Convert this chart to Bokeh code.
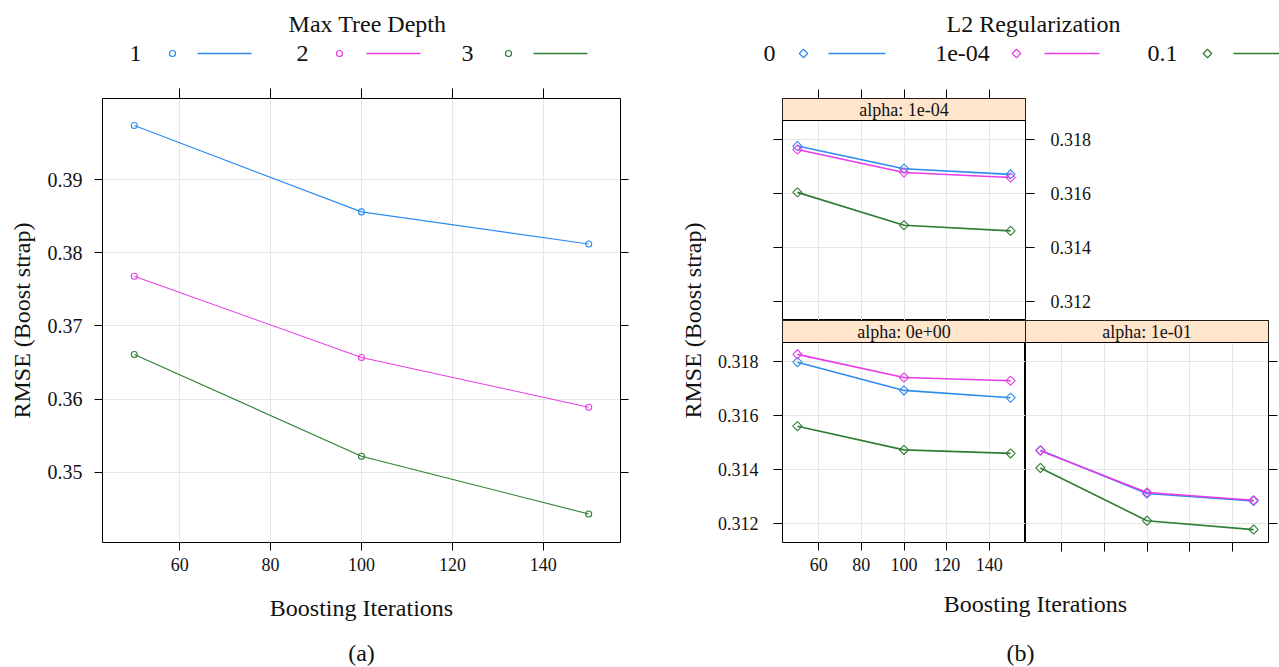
import math
from bokeh.plotting import figure
from bokeh.layouts import row, column
from bokeh.models import Range1d, LinearAxis, FixedTicker, Grid
from bokeh.core.properties import value
from bokeh.embed import file_html
from bokeh.resources import INLINE

FONT = "Liberation Serif"
TXT = "#111111"

# ---------------- data ----------------
iterations = [50, 100, 150]
x_ticks = [60, 80, 100, 120, 140]
x_tick_labels = ["60", "80", "100", "120", "140"]

# (a) Max Tree Depth
depth_levels = ["1", "2", "3"]
rmse_depth_1 = [0.3974, 0.3856, 0.3812]
rmse_depth_2 = [0.3768, 0.3657, 0.3589]
rmse_depth_3 = [0.3661, 0.3522, 0.3443]
a_y_ticks = [0.35, 0.36, 0.37, 0.38, 0.39]
a_y_tick_labels = ["0.35", "0.36", "0.37", "0.38", "0.39"]

# (b) L2 Regularization, panels by alpha
l2_levels = ["0", "1e-04", "0.1"]
strip_alpha_1e4 = "alpha: 1e-04"
strip_alpha_0 = "alpha: 0e+00"
strip_alpha_1e1 = "alpha: 1e-01"

alpha_1e4_l2_0 = [0.31776, 0.31692, 0.31671]
alpha_1e4_l2_1e4 = [0.31763, 0.31678, 0.31659]
alpha_1e4_l2_01 = [0.31604, 0.31482, 0.31461]

alpha_0_l2_0 = [0.31798, 0.31693, 0.31666]
alpha_0_l2_1e4 = [0.31827, 0.31741, 0.31729]
alpha_0_l2_01 = [0.31560, 0.31472, 0.31459]

alpha_1e1_l2_0 = [0.31471, 0.31310, 0.31282]
alpha_1e1_l2_1e4 = [0.31469, 0.31314, 0.31285]
alpha_1e1_l2_01 = [0.31405, 0.31209, 0.31176]

b_y_ticks = [0.312, 0.314, 0.316, 0.318]
b_y_tick_labels = ["0.312", "0.314", "0.316", "0.318"]

colors = ["#2d8cec", "#e83ce8", "#2e7d32"]

# ---------------- helpers ----------------
def base_fig(w, h, xr, yr, left=0, right=0, top=0, bottom=0, outline=True):
    p = figure(width=w, height=h, x_range=Range1d(*xr), y_range=Range1d(*yr),
               x_axis_type=None, y_axis_type=None, toolbar_location=None,
               output_backend="svg",
               min_border_left=left, min_border_right=right,
               min_border_top=top, min_border_bottom=bottom)
    p.background_fill_color = "white"
    p.border_fill_color = "white"
    p.outline_line_color = "black" if outline else None
    p.outline_line_width = 1
    return p


def add_axis(p, side, ticks, labels, show=True, size=18, out=8, standoff=8,
             axis_label=None, label_size=24, label_standoff=10):
    ax = LinearAxis(ticker=FixedTicker(ticks=ticks),
                    major_label_overrides=dict(zip(ticks, labels)))
    ax.axis_line_color = None
    ax.major_tick_in = 0
    ax.major_tick_out = out
    ax.major_tick_line_color = "black"
    ax.minor_tick_line_color = None
    ax.minor_tick_in = 0
    ax.minor_tick_out = 0
    ax.major_label_text_font = FONT
    if show:
        ax.major_label_text_color = TXT
        ax.major_label_text_font_size = f"{size}px"
        ax.major_label_standoff = standoff
    else:
        # tick marks only (lattice style), labels not drawn
        ax.major_label_text_color = None
        ax.major_label_text_font_size = "1px"
        ax.major_label_standoff = 0
    if axis_label:
        ax.axis_label = axis_label
        ax.axis_label_text_font = FONT
        ax.axis_label_text_font_style = "normal"
        ax.axis_label_text_font_size = f"{label_size}px"
        ax.axis_label_text_color = TXT
        ax.axis_label_standoff = label_standoff
    p.add_layout(ax, side)
    return ax


def add_grids(p, xt, yt):
    for dim, t in ((0, xt), (1, yt)):
        g = Grid(dimension=dim, ticker=FixedTicker(ticks=t))
        g.grid_line_color = "#e6e6e6"
        g.grid_line_width = 1
        p.add_layout(g)


def txt(p, x, y, s, size, angle=0.0):
    p.text(x=[x], y=[y], text=[s], angle=angle,
           text_font=value(FONT), text_font_size=value(f"{size}px"),
           text_align="center", text_baseline="middle", text_color=TXT)


def series(p, ys, color, marker, msize, lw, angle=0.0):
    p.line(iterations, ys, line_color=color, line_width=lw)
    p.scatter(iterations, ys, marker=marker, size=msize, angle=angle, fill_color=None,
              line_color=color, line_width=1.1)


X_RANGE = (43, 157)
DIAMOND_ANGLE = math.pi / 4

# ---------------- (a) ----------------
legL = base_fig(648, 88, (0, 648), (0, 88), outline=False)
txt(legL, 367, 65, "Max Tree Depth", 24)
for lab, lx, mx, s0, s1, c in zip(depth_levels, [135, 302, 467], [172, 339, 508],
                                  [197, 366, 533], [251, 420, 587], colors):
    txt(legL, lx, 35, lab, 24)
    legL.scatter([mx], [35], marker="circle", size=6, fill_color=None, line_color=c, line_width=1.2)
    legL.segment([s0], [35], [s1], [35], line_color=c, line_width=1.3)

A = base_fig(648, 494, X_RANGE, (0.3404, 0.4011), left=102, right=28, top=10, bottom=40)
add_grids(A, x_ticks, a_y_ticks)
add_axis(A, "left", a_y_ticks, a_y_tick_labels, show=True, size=20, out=8, standoff=12,
         axis_label="RMSE (Boost strap)", label_size=24, label_standoff=10)
add_axis(A, "right", a_y_ticks, a_y_tick_labels, show=False, out=8)
add_axis(A, "above", x_ticks, x_tick_labels, show=False, out=10)
add_axis(A, "below", x_ticks, x_tick_labels, show=True, size=18, out=8, standoff=7)
for ys, c in zip([rmse_depth_1, rmse_depth_2, rmse_depth_3], colors):
    series(A, ys, c, "circle", 6, 1.1)

capL = base_fig(648, 85, (0, 648), (0, 85), outline=False)
txt(capL, 361, 60, "Boosting Iterations", 24)
txt(capL, 361, 15, "(a)", 24)

left_col = column(legL, row(A), capL)

# ---------------- (b) ----------------
y0, y1 = 0.31128, 0.31871
ytop = y1 + (y1 - y0) * 22 / 200


def strip(p, label):
    p.quad(left=[X_RANGE[0]], right=[X_RANGE[1]], bottom=[y1], top=[ytop],
           fill_color="#ffe5cc", line_color="black", line_width=1)
    txt(p, (X_RANGE[0] + X_RANGE[1]) / 2, (y1 + ytop) / 2, label, 18)


legR = base_fig(631, 88, (0, 631), (0, 88), outline=False)
txt(legR, 385, 65, "L2 Regularization", 24)
for lab, lx, mx, s0, s1, c in zip(l2_levels, [121, 314, 514], [155, 368, 559],
                                  [180, 396, 585], [237, 451, 642], colors):
    txt(legR, lx, 35, lab, 24)
    legR.scatter([mx], [35], marker="square", angle=DIAMOND_ANGLE, size=6,
                 fill_color=None, line_color=c, line_width=1.2)
    legR.segment([s0], [35], [s1], [35], line_color=c, line_width=1.3)

TL = base_fig(389, 232, X_RANGE, (y0, ytop), left=76, right=70, top=10, bottom=0)
add_grids(TL, x_ticks, b_y_ticks)
add_axis(TL, "left", b_y_ticks, b_y_tick_labels, show=False, out=9)
add_axis(TL, "right", b_y_ticks, b_y_tick_labels, show=True, size=18, out=9, standoff=16)
add_axis(TL, "above", x_ticks, x_tick_labels, show=False, out=9)
for ys, c in zip([alpha_1e4_l2_0, alpha_1e4_l2_1e4, alpha_1e4_l2_01], colors):
    series(TL, ys, c, "square", 6.5, 1.6, DIAMOND_ANGLE)
strip(TL, strip_alpha_1e4)

BL = base_fig(319, 262, X_RANGE, (y0, ytop), left=76, right=0, top=0, bottom=40)
add_grids(BL, x_ticks, b_y_ticks)
add_axis(BL, "left", b_y_ticks, b_y_tick_labels, show=True, size=18, out=9, standoff=15)
add_axis(BL, "below", x_ticks, x_tick_labels, show=True, size=18, out=8, standoff=7)
for ys, c in zip([alpha_0_l2_0, alpha_0_l2_1e4, alpha_0_l2_01], colors):
    series(BL, ys, c, "square", 6.5, 1.6, DIAMOND_ANGLE)
strip(BL, strip_alpha_0)

BR = base_fig(254, 262, X_RANGE, (y0, ytop), left=0, right=11, top=0, bottom=40)
add_grids(BR, x_ticks, b_y_ticks)
add_axis(BR, "right", b_y_ticks, b_y_tick_labels, show=False, out=9)
add_axis(BR, "below", x_ticks, x_tick_labels, show=False, out=9)
for ys, c in zip([alpha_1e1_l2_0, alpha_1e1_l2_1e4, alpha_1e1_l2_01], colors):
    series(BR, ys, c, "square", 6.5, 1.6, DIAMOND_ANGLE)
strip(BR, strip_alpha_1e1)

ylabR = base_fig(58, 494, (0, 58), (0, 494), outline=False)
txt(ylabR, 44, 262, "RMSE (Boost strap)", 24, angle=math.pi / 2)

capR = base_fig(631, 85, (0, 631), (0, 85), outline=False)
txt(capR, 387, 64, "Boosting Iterations", 24)
txt(capR, 372, 15, "(b)", 24)

right_col = column(legR, row(ylabR, column(row(TL), row(BL, BR))), capR)

layout = row(left_col, right_col)

with open("out.html", "w") as f:
    f.write(file_html(layout, INLINE))
